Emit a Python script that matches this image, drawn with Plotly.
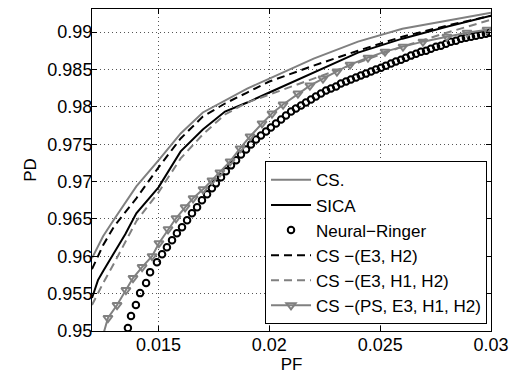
import plotly.graph_objects as go

# ---- data ----
pf_grid = [0.012, 0.0125, 0.013, 0.0135, 0.014, 0.015, 0.016, 0.017, 0.018,
           0.019, 0.020, 0.022, 0.024, 0.026, 0.028, 0.030]

cs_pd = [0.95975, 0.96269, 0.96496, 0.96723, 0.96936, 0.97284, 0.97644, 0.97925,
         0.98085, 0.98245, 0.98379, 0.98646, 0.98873, 0.99046, 0.99153, 0.99260]

cs_e3h2_pd = [0.95828, 0.96148, 0.96402, 0.96589, 0.96776, 0.97190, 0.97577, 0.97871,
              0.98045, 0.98192, 0.98339, 0.98552, 0.98752, 0.98939, 0.99086, 0.99220]

cs_e3h1h2_pd = [0.95347, 0.95641, 0.95908, 0.96189, 0.96469, 0.96856, 0.97310, 0.97631,
                0.97898, 0.98058, 0.98165, 0.98379, 0.98592, 0.98806, 0.98993, 0.99166]

sica_pf = [0.012, 0.01227, 0.0125, 0.013, 0.0135, 0.014, 0.015, 0.016, 0.017, 0.018,
           0.019, 0.020, 0.022, 0.024, 0.026, 0.028, 0.030]
sica_pd = [0.95441, 0.95681, 0.95801, 0.96042, 0.96295, 0.96576, 0.96923, 0.97404,
           0.97698, 0.97938, 0.98058, 0.98192, 0.98459, 0.98726, 0.98913, 0.99073, 0.99220]

ps_pf = [0.01241, 0.01272, 0.01313, 0.01353, 0.01385, 0.01426, 0.01471, 0.01502,
         0.01543, 0.01579, 0.01620, 0.01656, 0.01701, 0.01741, 0.01777, 0.01823,
         0.01868, 0.01913, 0.01967, 0.02012, 0.02062, 0.02129, 0.02183, 0.02242,
         0.02305, 0.02364, 0.02445, 0.02522, 0.02603, 0.02693, 0.02801, 0.02892, 0.02982]
ps_pd = [0.94853, 0.95174, 0.95347, 0.95548, 0.95708, 0.95855, 0.96002, 0.96175,
         0.96362, 0.96509, 0.96656, 0.96776, 0.96896, 0.97016, 0.97123, 0.97270,
         0.97444, 0.97604, 0.97778, 0.97911, 0.98031, 0.98178, 0.98285, 0.98379,
         0.98472, 0.98565, 0.98659, 0.98739, 0.98806, 0.98873, 0.98939, 0.98993, 0.99033]

nr_pf = [0.01362, 0.01376, 0.01398, 0.01417, 0.01444, 0.01462, 0.01493, 0.01516,
         0.01538, 0.01561, 0.01583, 0.01606, 0.01629, 0.01651, 0.01674, 0.01696,
         0.01719, 0.01741, 0.01759, 0.01782, 0.01804, 0.01827, 0.01850, 0.01872,
         0.01895, 0.01917, 0.01940, 0.01962, 0.01985, 0.02007, 0.02030, 0.02053,
         0.02075, 0.02098, 0.02120, 0.02143, 0.02165, 0.02188, 0.02210, 0.02233,
         0.02256, 0.02278, 0.02301, 0.02323, 0.02346, 0.02368, 0.02391, 0.02413,
         0.02436, 0.02459, 0.02481, 0.02504, 0.02526, 0.02549, 0.02571, 0.02594,
         0.02616, 0.02639, 0.02662, 0.02684, 0.02707, 0.02729, 0.02752, 0.02774,
         0.02797, 0.02819, 0.02842, 0.02865, 0.02887, 0.02910, 0.02932, 0.02955,
         0.02977, 0.02995]
nr_pd = [0.95040, 0.95200, 0.95347, 0.95507, 0.95641, 0.95788, 0.95921, 0.96028,
         0.96122, 0.96215, 0.96309, 0.96389, 0.96482, 0.96576, 0.96656, 0.96749,
         0.96829, 0.96910, 0.96976, 0.97057, 0.97137, 0.97217, 0.97284, 0.97364,
         0.97430, 0.97497, 0.97564, 0.97617, 0.97671, 0.97724, 0.97778, 0.97831,
         0.97884, 0.97938, 0.97978, 0.98018, 0.98058, 0.98098, 0.98138, 0.98178,
         0.98218, 0.98245, 0.98272, 0.98312, 0.98339, 0.98365, 0.98392, 0.98419,
         0.98445, 0.98472, 0.98499, 0.98525, 0.98552, 0.98579, 0.98606, 0.98632,
         0.98659, 0.98686, 0.98712, 0.98739, 0.98752, 0.98779, 0.98806, 0.98819,
         0.98846, 0.98873, 0.98886, 0.98913, 0.98926, 0.98939, 0.98953, 0.98966,
         0.98979, 0.98993]

x_ticks = [0.015, 0.02, 0.025, 0.03]
x_ticklabels = ["0.015", "0.02", "0.025", "0.03"]
y_ticks = [0.95, 0.955, 0.96, 0.965, 0.97, 0.975, 0.98, 0.985, 0.99]
y_ticklabels = ["0.95", "0.955", "0.96", "0.965", "0.97", "0.975", "0.98", "0.985", "0.99"]

names = ["CS.", "SICA", "Neural\u2212Ringer", "CS \u2212(E3, H2)",
         "CS \u2212(E3, H1, H2)", "CS \u2212(PS, E3, H1, H2)"]

GRAY = "#808080"
FONT = "Liberation Sans, Arial, sans-serif"

fig = go.Figure()
fig.add_trace(go.Scatter(x=pf_grid, y=cs_pd, mode="lines", name=names[0],
                         line=dict(color=GRAY, width=2)))
fig.add_trace(go.Scatter(x=sica_pf, y=sica_pd, mode="lines", name=names[1],
                         line=dict(color="black", width=2)))
fig.add_trace(go.Scatter(x=nr_pf, y=nr_pd, mode="markers", name=names[2],
                         marker=dict(symbol="circle-open", size=6.5, color="black",
                                     line=dict(color="black", width=2))))
fig.add_trace(go.Scatter(x=pf_grid, y=cs_e3h2_pd, mode="lines", name=names[3],
                         line=dict(color="black", width=2, dash="8px,5px")))
fig.add_trace(go.Scatter(x=pf_grid, y=cs_e3h1h2_pd, mode="lines", name=names[4],
                         line=dict(color=GRAY, width=2, dash="8px,5px")))
fig.add_trace(go.Scatter(x=ps_pf, y=ps_pd, mode="lines+markers", name=names[5],
                         line=dict(color=GRAY, width=2),
                         marker=dict(symbol="triangle-down-open", size=8, color=GRAY,
                                     line=dict(color=GRAY, width=2))))

axis_common = dict(showline=True, linecolor="black", linewidth=1, mirror="ticks",
                   ticks="inside", ticklen=5, tickcolor="black", tickwidth=1,
                   showgrid=True, gridcolor="#555555", griddash="1px,3px", gridwidth=1,
                   zeroline=False, automargin=False,
                   tickfont=dict(family=FONT, size=18, color="black"))

fig.update_xaxes(range=[0.012, 0.03], tickvals=x_ticks, ticktext=x_ticklabels,
                 ticklabelstandoff=-3,
                 title=dict(text="PF", font=dict(family=FONT, size=17, color="black"),
                            standoff=2),
                 **axis_common)
fig.update_yaxes(range=[0.95, 0.9931], tickvals=y_ticks, ticktext=y_ticklabels,
                 ticklabelstandoff=-5,
                 title=dict(text="PD", font=dict(family=FONT, size=17, color="black"),
                            standoff=6),
                 **axis_common)

fig.update_layout(
    width=513, height=374,
    margin=dict(l=92, r=22, t=9, b=43),
    paper_bgcolor="white", plot_bgcolor="white",
    font=dict(family=FONT, color="black"),
    showlegend=True,
    legend=dict(x=0.99, y=0.527, xanchor="right", yanchor="top",
                bgcolor="white", bordercolor="black", borderwidth=1,
                font=dict(family=FONT, size=17, color="black"),
                itemwidth=40, tracegroupgap=0),
)

fig.write_html("out.html",
               config={"displayModeBar": False},
               post_script="document.body.style.margin='0';document.body.style.padding='0';")
